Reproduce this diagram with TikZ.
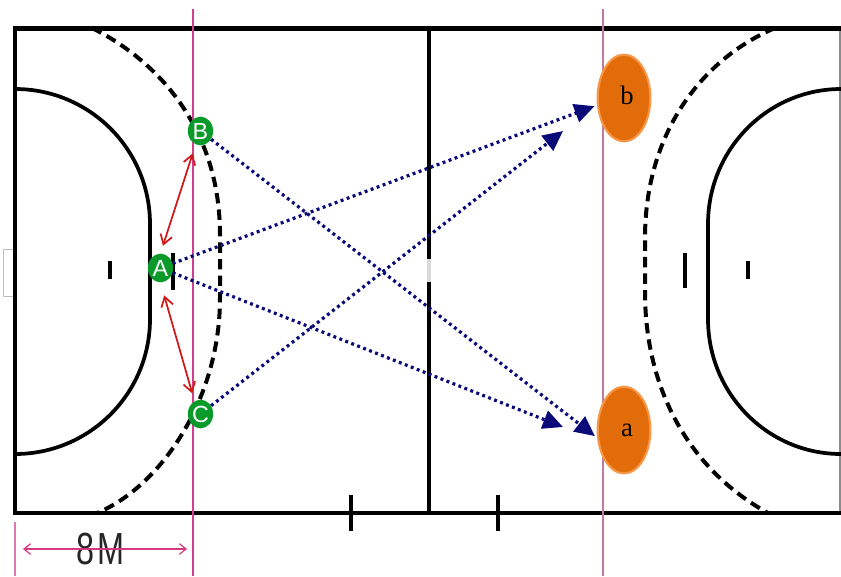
\documentclass[tikz,border=0pt]{standalone}
\usepackage{fontspec}
\setmainfont{Liberation Serif}
\newfontfamily\labelsans{Liberation Sans}
\usetikzlibrary{arrows.meta,shapes.geometric}
\definecolor{playergreen}{HTML}{0A9A2A}
\definecolor{orangefill}{HTML}{E36C0A}
\definecolor{orangeedge}{HTML}{F79646}
\definecolor{passnavy}{HTML}{0A0A78}
\definecolor{guidepink}{HTML}{D0408F}
\definecolor{guidedull}{HTML}{C07AA0}
\definecolor{movered}{HTML}{D01818}
\newcommand{\plab}[1]{\raisebox{-6.3pt}[0pt][0pt]{\makebox[0pt]{#1}}}
\newcommand{\tlab}[1]{\raisebox{-4.5pt}[0pt][0pt]{\makebox[0pt]{\kern4.5pt #1}}}
\tikzset{
  frameline/.style={line width=3.2pt,black},
  arcline/.style={line width=2.8pt,black},
  dashline/.style={line width=3pt,black,dash pattern=on 7.8pt off 4.6pt},
  tickline/.style={line width=2.7pt,black},
  player/.style={ellipse,fill=playergreen,draw=none,inner sep=0pt,minimum width=19pt,minimum height=21.5pt,text=white,font=\labelsans\fontsize{17.5}{17.5}\selectfont},
  target/.style={ellipse,fill=orangefill,draw=orangeedge,line width=1.6pt,inner sep=0pt,minimum width=39.5pt,minimum height=65pt,text=black,font=\fontsize{20}{20}\selectfont},
  pass/.style={line width=2.4pt,passnavy,dash pattern=on 2.2pt off 2.6pt,-{Triangle[length=15pt,width=14pt,fill=passnavy]}},
  move/.style={line width=1.3pt,movered,{Straight Barb[length=7pt,width=9pt]}-{Straight Barb[length=7pt,width=9pt]}},
  measure/.style={line width=.9pt,guidepink!90!red,{Straight Barb[length=5pt,width=8pt]}-{Straight Barb[length=5pt,width=8pt]}}
}
\begin{document}
\begin{tikzpicture}[x=.75pt,y=-.75pt]
\useasboundingbox (0,0) rectangle (841,576);
% side marks behind the frame
\draw[line width=.6pt,black!25] (15,249) -- (3,249) -- (3,296) -- (15,296);
\draw[line width=.8pt,black!45] (840,28) -- (840,513);
% court
\draw[frameline] (841,28.5) -- (15,28.5) -- (15,513) -- (841,513);
\draw[frameline] (429,28.5) -- (429,513);
\draw[line width=3.3pt,black!15] (429,259) -- (429,282);
% goal areas
\draw[arcline] (15,89) arc[start angle=-90,end angle=0,x radius=135,y radius=135] -- (150,319) arc[start angle=0,end angle=90,x radius=135,y radius=135];
\draw[arcline] (841,89) arc[start angle=270,end angle=180,x radius=133,y radius=135] -- (708,319) arc[start angle=180,end angle=90,x radius=133,y radius=135];
% free throw lines
\draw[dashline] (92,28) .. controls (160,62) and (220,130) .. (220,235) -- (220,298) .. controls (220,400) and (160,487) .. (97,513);
\draw[dashline] (775,28) .. controls (700,60) and (645,135) .. (645,238) -- (645,292) .. controls (645,390) and (690,470) .. (768,513);
% ticks
\draw[tickline] (110,261) -- (110,279);
\draw[tickline] (173,253) -- (173,290);
\draw[tickline] (685,253) -- (685,288);
\draw[tickline] (748,261) -- (748,279);
\draw[tickline] (351,495) -- (351,531);
\draw[tickline] (498,495) -- (498,531);
% guide lines
\draw[line width=1pt,guidepink] (193,9) -- (193,576);
\draw[line width=.8pt,guidedull] (603,9) -- (603,576);
\draw[line width=.9pt,guidepink!70!white] (15,522) -- (15,576);
% nodes
\node[player] (A) at (160.5,268) {\plab{A}};
\node[player] (B) at (200.5,131) {\plab{B}};
\node[player] (C) at (200.5,414) {\plab{C}};
\node[target] (b) at (624,98) {\tlab{b}};
\node[target] (a) at (624,430) {\tlab{a}};
\coordinate (tipAa) at (563,427);
\coordinate (tipCb) at (563,131);
\coordinate (mL) at (23,549);
\coordinate (mR) at (187,549);
% passes
\draw[pass,shorten >=2pt] (A) -- (b.195);
\draw[pass] (A) -- (tipAa);
\draw[pass,shorten >=2pt] (B) -- (a.196);
\draw[pass] (C) -- (tipCb);
% movement
\draw[move,shorten <=6pt,shorten >=7pt] (A.90) -- (B.250);
\draw[move,shorten <=10pt,shorten >=6pt] (A.270) -- (C.115);
% measure
\node[font=\labelsans\fontsize{33.75}{33.75}\selectfont,text=black!85,inner sep=0pt] (eight) at (100.5,549) {\scalebox{.72}[1]{8\kern3.5pt M}};
\draw[measure] (mL) -- (mR);
\end{tikzpicture}
\end{document}
